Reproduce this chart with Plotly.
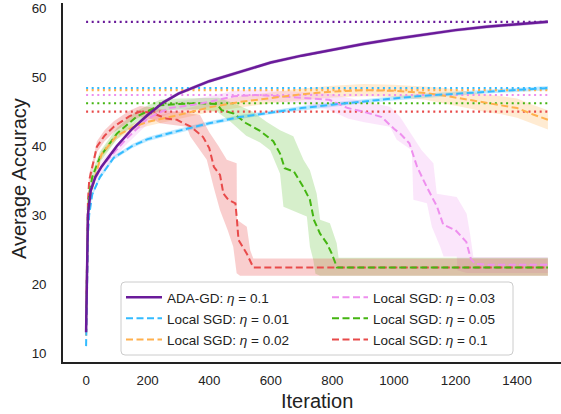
import plotly.graph_objects as go

# ---------------- data ----------------
ada_x = [0, 3, 6, 15, 30, 50, 75, 100, 150, 200, 250, 300, 400, 500, 600, 700, 800, 900, 1000, 1100, 1200, 1300, 1400, 1500]
ada_y = [13, 25, 30, 33.5, 35.5, 37, 38.5, 40, 42.5, 44.5, 46.3, 47.6, 49.4, 50.8, 52.1, 53.1, 54.0, 54.8, 55.5, 56.2, 56.8, 57.3, 57.7, 58.0]
ada_hw = [0.3] * 3 + [0.25] * 21

c01_x = [0, 3, 6, 10, 20, 45, 90, 150, 200, 300, 400, 500, 600, 700, 800, 900, 1000, 1100, 1200, 1300, 1400, 1500]
c01_y = [11, 20, 27, 30, 33, 35.5, 38.3, 40, 41, 42.2, 43.3, 44.2, 44.9, 45.5, 46.0, 46.5, 46.9, 47.3, 47.6, 47.9, 48.2, 48.4]
c01_hw = [0.3] * 22

c02_x = [0, 3, 6, 10, 20, 50, 100, 150, 200, 300, 400, 500, 600, 700, 800, 900, 1000, 1100, 1150, 1200, 1250, 1300, 1350, 1400, 1450, 1500]
c02_y = [12.5, 22, 28, 31, 34, 38.8, 41.5, 42.7, 43.5, 44.5, 45.6, 46.4, 47.0, 47.5, 47.9, 48.1, 48.0, 47.7, 47.4, 47.0, 46.6, 46.2, 45.9, 45.5, 44.6, 43.8]
c02_hw = [0.3, 0.5, 0.5, 0.5, 0.5, 0.5, 0.5, 0.5, 0.6, 0.6, 0.7, 0.8, 0.8, 0.85, 0.85, 0.9, 0.9, 1.0, 1.1, 1.2, 1.2, 1.3, 1.3, 1.4, 1.4, 1.4]

c03_x = [0, 3, 6, 10, 20, 50, 80, 130, 200, 270, 350, 400, 480, 550, 630, 700, 790, 850, 900, 960, 1000, 1020, 1050, 1075, 1105, 1140, 1160, 1200, 1235, 1250, 1265, 1300, 1400, 1500]
c03_y = [14, 24, 29, 32, 34.5, 37, 38.5, 41, 44, 45.5, 46, 46.4, 47.2, 47.4, 47.2, 47.0, 46.7, 45.5, 45.0, 44.2, 42.5, 41.8, 40.4, 37.0, 34.2, 31.2, 28.6, 27.8, 26.1, 23.6, 22.9, 22.8, 22.8, 22.8]
c03_hi_x = [0, 3, 6, 10, 20, 50, 80, 130, 200, 270, 350, 400, 480, 550, 630, 700, 790, 850, 900, 960, 987, 1020, 1069, 1090, 1128, 1139, 1204, 1236, 1247, 1258, 1500]
c03_hi_y = [14.5, 25, 30, 33, 35.3, 37.8, 39.3, 41.8, 44.8, 46.3, 46.8, 47.2, 48.0, 48.2, 48.0, 47.8, 47.6, 47.0, 46.5, 46.0, 45.7, 44.2, 40.9, 39.4, 37.5, 33.1, 32.6, 30.2, 27.3, 23.9, 23.9]
c03_lo_x = [0, 3, 6, 10, 20, 50, 80, 130, 200, 270, 350, 400, 480, 550, 630, 700, 792, 850, 900, 960, 987, 1009, 1058, 1063, 1107, 1123, 1150, 1161, 1204, 1206, 1236, 1500]
c03_lo_y = [13.5, 23, 28, 31, 33.7, 36.2, 37.7, 40.2, 43.2, 44.7, 45.2, 45.6, 46.4, 46.6, 46.4, 46.2, 45.2, 44.0, 43.5, 43.0, 42.8, 40.9, 39.4, 32.2, 31.7, 28.3, 25.4, 24.0, 24.0, 22.0, 21.6, 21.6]

c05_x = [0, 3, 6, 10, 20, 45, 100, 165, 240, 300, 370, 425, 440, 480, 520, 565, 608, 630, 645, 675, 705, 727, 740, 760, 782, 798, 815, 900, 1200, 1500]
c05_y = [15, 25, 30.5, 33, 35.5, 38.4, 41.8, 44.3, 45.9, 46.1, 46.2, 46.1, 45.2, 44.7, 43.3, 42.2, 40.7, 38.9, 36.8, 36.3, 34.1, 32.2, 29.3, 27.3, 25.9, 24.4, 22.4, 22.4, 22.4, 22.4]
c05_hi_x = [0, 3, 6, 10, 20, 45, 100, 165, 240, 300, 370, 430, 480, 540, 587, 630, 673, 706, 727, 749, 760, 792, 814, 820, 1500]
c05_hi_y = [15.5, 26, 31.3, 33.8, 36.3, 39.2, 42.6, 45.1, 46.7, 46.9, 47.0, 47.0, 46.2, 45.0, 43.5, 42.3, 41.4, 38.0, 36.5, 33.1, 29.3, 28.8, 25.9, 23.8, 23.8]
c05_lo_x = [0, 3, 6, 10, 20, 45, 100, 165, 240, 300, 370, 425, 470, 520, 565, 598, 630, 641, 717, 727, 738, 745, 760, 1500]
c05_lo_y = [14.5, 24, 29.7, 32.2, 34.7, 37.6, 41.0, 43.5, 45.1, 45.3, 45.3, 45.0, 43.5, 41.5, 40.5, 39.4, 36.0, 31.2, 29.8, 25.4, 23.5, 21.5, 21.2, 21.2]

c1_x = [0, 3, 6, 10, 24, 35, 60, 90, 140, 175, 200, 220, 260, 295, 340, 380, 400, 415, 435, 446, 462, 485, 490, 495, 522, 543, 600, 1500]
c1_y = [14, 27, 32, 35, 37.5, 39.9, 41.5, 42.8, 44.3, 45.0, 44.9, 44.7, 44.0, 43.8, 42.8, 41.3, 39.7, 37.0, 35.8, 33.1, 32.2, 31.7, 29.3, 26.4, 24.4, 22.4, 22.4, 22.4]
c1_hi_x = [0, 3, 6, 10, 24, 35, 60, 90, 140, 175, 220, 260, 300, 340, 370, 400, 430, 446, 457, 489, 490, 522, 533, 543, 1500]
c1_hi_y = [14.5, 28, 33, 36, 38.3, 40.7, 42.3, 43.6, 45.1, 45.8, 45.6, 45.2, 44.9, 44.7, 44.5, 42.0, 40.0, 38.9, 38.0, 37.5, 29.3, 28.3, 24.9, 23.7, 23.7]
c1_lo_x = [0, 3, 6, 10, 24, 35, 60, 90, 140, 175, 220, 240, 327, 338, 392, 414, 435, 460, 478, 489, 500, 1500]
c1_lo_y = [13.5, 26, 31, 34, 36.7, 39.1, 40.7, 42.0, 43.5, 44.2, 43.8, 43.3, 42.8, 41.4, 38.0, 34.1, 30.7, 27.8, 25.4, 21.55, 21.2, 21.2]

x_ticks = [0, 200, 400, 600, 800, 1000, 1200, 1400]
y_ticks = [10, 20, 30, 40, 50, 60]

names = ["ADA-GD: <i>η</i> = 0.1", "Local SGD: <i>η</i> = 0.01", "Local SGD: <i>η</i> = 0.02",
         "Local SGD: <i>η</i> = 0.03", "Local SGD: <i>η</i> = 0.05", "Local SGD: <i>η</i> = 0.1"]
colors = ["#6A1B9A", "#33BBFF", "#FFB04D", "#EE8FEE", "#44B511", "#E84A4A"]
fills = ["rgba(106,27,154,0.3)", "rgba(51,187,255,0.3)", "rgba(255,176,77,0.25)",
         "rgba(238,143,238,0.22)", "rgba(68,181,17,0.22)", "rgba(232,74,74,0.27)"]


def sym_band(x, y, hw):
    hi = [a + b for a, b in zip(y, hw)]
    lo = [a - b for a, b in zip(y, hw)]
    return x, hi, x, lo


series = [
    (ada_x, ada_y) + sym_band(ada_x, ada_y, ada_hw),
    (c01_x, c01_y) + sym_band(c01_x, c01_y, c01_hw),
    (c02_x, c02_y) + sym_band(c02_x, c02_y, c02_hw),
    (c03_x, c03_y, c03_hi_x, c03_hi_y, c03_lo_x, c03_lo_y),
    (c05_x, c05_y, c05_hi_x, c05_hi_y, c05_lo_x, c05_lo_y),
    (c1_x, c1_y, c1_hi_x, c1_hi_y, c1_lo_x, c1_lo_y),
]

fig = go.Figure()

# bands
for i, (x, y, hx, hy, lx, ly) in enumerate(series):
    fig.add_trace(go.Scatter(x=list(hx) + list(lx)[::-1], y=list(hy) + list(ly)[::-1],
                             fill="toself", fillcolor=fills[i], line=dict(width=0),
                             mode="lines", hoverinfo="skip", showlegend=False))

# dotted max lines
for i, (x, y, *_rest) in enumerate(series):
    m = max(y)
    fig.add_trace(go.Scatter(x=[0, 1500], y=[m, m], mode="lines",
                             line=dict(color=colors[i], width=2.2, dash="2px,3.6px"),
                             showlegend=False, hoverinfo="skip"))

# mean lines
order = [5, 4, 3, 2, 1, 0]
for i in order:
    x, y = series[i][0], series[i][1]
    fig.add_trace(go.Scatter(
        x=x, y=y, mode="lines", name=names[i],
        line=dict(color=colors[i], width=2.5 if i == 0 else 2, dash="solid" if i == 0 else "7px,3.5px"),
        legend="legend" if i < 3 else "legend2", legendrank=i, legendgroup=str(i),
    ))

W, H = 561, 414
L, R, T, B = 63, 0, 3, 52
pw, ph = W - L - R, H - T - B


def px(xp):
    return (xp - L) / pw


def py(yp):
    return (H - B - yp) / ph


# legend frame (rounded)
x0, x1, y0, y1 = px(121), px(513), py(355), py(282)
rx, ry = 4 / pw, 4 / ph
path = (f"M{x0+rx},{y0} L{x1-rx},{y0} Q{x1},{y0} {x1},{y0+ry} L{x1},{y1-ry} Q{x1},{y1} {x1-rx},{y1} "
        f"L{x0+rx},{y1} Q{x0},{y1} {x0},{y1-ry} L{x0},{y0+ry} Q{x0},{y0} {x0+rx},{y0} Z")

font_family = "Liberation Sans, Arial, sans-serif"
leg_common = dict(bgcolor="rgba(0,0,0,0)", borderwidth=0, font=dict(size=13.5, color="#222", family=font_family),
                  tracegroupgap=0.5, xanchor="left", yanchor="top", itemwidth=36)

fig.update_layout(
    width=W, height=H,
    margin=dict(l=L, r=R, t=T, b=B, autoexpand=False),
    plot_bgcolor="white", paper_bgcolor="white",
    font=dict(family=font_family, color="#222"),
    showlegend=True,
    legend=dict(x=px(121), y=py(282), **leg_common),
    legend2=dict(x=px(327), y=py(282), **leg_common),
    shapes=[dict(type="path", path=path, xref="paper", yref="paper",
                 line=dict(color="#cccccc", width=1), fillcolor="rgba(255,255,255,0.8)", layer="above")],
    annotations=[
        dict(text="Iteration", xref="paper", yref="paper", x=px(317), y=py(401), xanchor="center",
             yanchor="middle", showarrow=False, font=dict(size=20, color="#222", family=font_family)),
        dict(text="Average Accuracy", xref="paper", yref="paper", x=px(19), y=py(179), xanchor="center",
             yanchor="middle", textangle=-90, showarrow=False, font=dict(size=20, color="#222", family=font_family)),
    ],
    xaxis=dict(range=[-75, 1542.5], tickvals=x_ticks, showgrid=False, zeroline=False, automargin=False,
               showline=True, linecolor="#222", linewidth=1.8, ticks="", ticklabelstandoff=5,
               tickfont=dict(size=13.3, color="#222", family=font_family)),
    yaxis=dict(range=[8.70, 60.73], tickvals=y_ticks, showgrid=False, zeroline=False, automargin=False,
               showline=True, linecolor="#222", linewidth=1.8, ticks="", ticklabelstandoff=12,
               tickfont=dict(size=13.3, color="#222", family=font_family)),
)

fig.write_html("out.html", config={"displayModeBar": False},
               post_script="document.body.style.margin='0';document.body.style.padding='0';")
